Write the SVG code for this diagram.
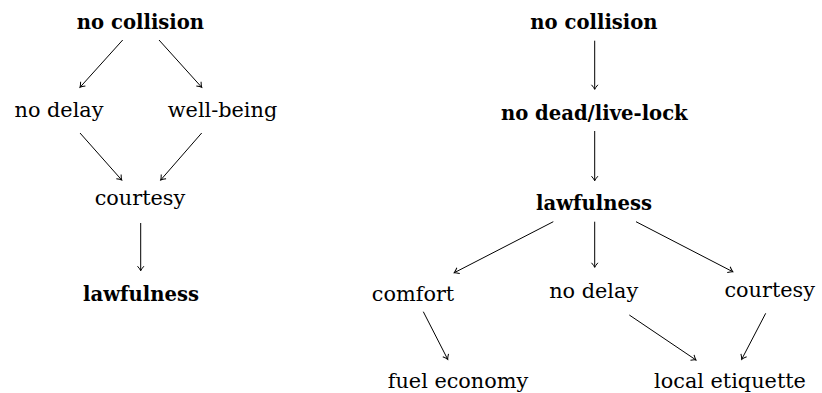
<svg xmlns="http://www.w3.org/2000/svg" width="822" height="393" viewBox="0 0 822 393">
  <style>
    text { font-family: 'DejaVu Serif', serif; font-size: 20.8px; fill: #000; text-anchor: middle; }
    .b { font-weight: bold; font-size: 19.6px; }
    .edge { stroke: #000; stroke-width: 1; fill: none; marker-end: url(#tip); }
  </style>
  <defs>
    <marker id="tip" markerUnits="userSpaceOnUse" markerWidth="12" markerHeight="12" refX="0" refY="0" viewBox="-6 -6 12 12" orient="auto" overflow="visible">
      <path d="M-4.5,-3.2 Q-1.5,-0.6 0,0 Q-1.5,0.6 -4.5,3.2" fill="none" stroke="#000" stroke-width="1"/>
    </marker>
  </defs>
  <rect width="822" height="393" fill="#fff"/>

  <!-- left ordering -->
  <g id="L-no-collision"><text class="b" x="140.5" y="29">no collision</text></g>
  <g id="L-no-delay"><text x="59" y="117">no delay</text></g>
  <g id="L-well-being"><text x="222.5" y="117">well-being</text></g>
  <g id="L-courtesy"><text x="140" y="205">courtesy</text></g>
  <g id="L-lawfulness"><text class="b" x="141" y="301">lawfulness</text></g>

  <!-- right ordering -->
  <g id="R-no-collision"><text class="b" x="594" y="29">no collision</text></g>
  <g id="R-no-deadlock"><text class="b" x="594.3" y="120">no dead/live-lock</text></g>
  <g id="R-lawfulness"><text class="b" x="594" y="210">lawfulness</text></g>
  <g id="R-comfort"><text x="413" y="300.5">comfort</text></g>
  <g id="R-no-delay"><text x="593.7" y="297.5">no delay</text></g>
  <g id="R-courtesy"><text x="769.7" y="297">courtesy</text></g>
  <g id="R-fuel-economy"><text x="458" y="387.5">fuel economy</text></g>
  <g id="R-local-etiquette"><text x="730" y="387.5">local etiquette</text></g>

  <g id="connectors">
    <line class="edge" x1="122.7" y1="40" x2="80" y2="87.3"/>
    <line class="edge" x1="159" y1="40" x2="201.7" y2="87.3"/>
    <line class="edge" x1="80" y1="133" x2="121.7" y2="180"/>
    <line class="edge" x1="201.7" y1="133" x2="160.7" y2="180"/>
    <line class="edge" x1="140.7" y1="223" x2="140.7" y2="270.7"/>

    <line class="edge" x1="594.7" y1="40.7" x2="594.7" y2="89.3"/>
    <line class="edge" x1="594.7" y1="131" x2="594.7" y2="180.7"/>
    <line class="edge" x1="553.3" y1="221.7" x2="454.3" y2="272.7"/>
    <line class="edge" x1="594.7" y1="221.7" x2="594.7" y2="267.3"/>
    <line class="edge" x1="636" y1="221.7" x2="732.7" y2="271.7"/>
    <line class="edge" x1="423.3" y1="311.7" x2="447.7" y2="359.3"/>
    <line class="edge" x1="629.3" y1="315" x2="696" y2="360"/>
    <line class="edge" x1="765.7" y1="313.3" x2="741.7" y2="359.3"/>
  </g>
</svg>
